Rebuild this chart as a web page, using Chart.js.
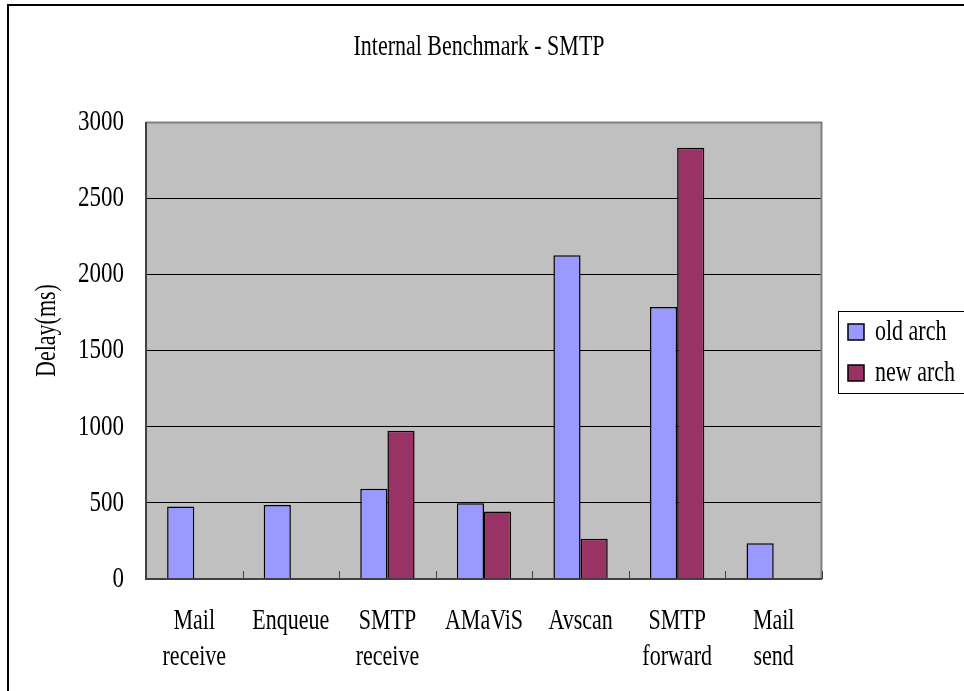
<!DOCTYPE html>
<html>
<head>
<meta charset="utf-8">
<title>Internal Benchmark - SMTP</title>
<script src="https://cdn.jsdelivr.net/npm/chart.js@4/dist/chart.umd.min.js"></script>
<style>
  html, body { margin: 0; padding: 0; background: #ffffff; overflow: hidden; }
  #wrap { position: relative; width: 964px; height: 691px; }
</style>
</head>
<body>
<div id="wrap"><canvas id="chart" width="964" height="691"></canvas></div>
<script>
// Processing stages (multi-line labels are arrays of lines)
const categories = [
  ['Mail', 'receive'],
  'Enqueue',
  ['SMTP', 'receive'],
  'AMaViS',
  'Avscan',
  ['SMTP', 'forward'],
  ['Mail', 'send']
];

// Delay per stage in milliseconds
const oldArch = [476, 485, 592, 498, 2125, 1785, 235];
const newArch = [null, null, 974, 443, 265, 2831, null];

const seriesNames = ['old arch', 'new arch'];
const chartTitle = 'Internal Benchmark - SMTP';
const yAxisTitle = 'Delay(ms)';

// Value axis range
const yMin = 0;
const yMax = 3000;
const yStep = 500;

const FONT = '"Liberation Serif", "Times New Roman", serif';
const GLYPH_STRETCH = 1.32;   // tall, narrow serif look

const canvas = document.getElementById('chart');
const ctx = canvas.getContext('2d');

// Draw every glyph run stretched vertically around its anchor point.
const baseFillText = ctx.fillText.bind(ctx);
ctx.fillText = function (text, x, y, maxWidth) {
  this.save();
  this.translate(x, y);
  this.scale(1, GLYPH_STRETCH);
  if (maxWidth === undefined) baseFillText(text, 0, 0);
  else baseFillText(text, 0, 0, maxWidth);
  this.restore();
};

// Gray plot area, frames, category tick marks and the rotated y title
const decor = {
  id: 'decor',
  afterLayout(chart) {
    // leave a small gap between the plot frame and the legend
    const lg = chart.legend;
    if (lg) {
      lg.left += 7; lg.right += 7;
      lg.top += 15; lg.bottom += 15;
    }
  },
  beforeDraw(chart) {
    const c = chart.ctx;
    const a = chart.chartArea;
    c.save();
    c.fillStyle = '#ffffff';
    c.fillRect(0, 0, chart.width, chart.height);
    c.fillStyle = '#c0c0c0';
    c.fillRect(a.left, a.top, a.right - a.left, a.bottom - a.top);

    // legend frame (legend items are drawn on top of it)
    const lg = chart.legend;
    if (lg && lg.legendHitBoxes && lg.legendHitBoxes.length) {
      const hb = lg.legendHitBoxes;
      const first = hb[0];
      const last = hb[hb.length - 1];
      const x = Math.round(first.left - 10) + 0.5;
      const y = Math.round(first.top - 10) + 0.5;
      const h = Math.round(last.top + last.height + 9) - y + 0.5;
      c.fillStyle = '#ffffff';
      c.fillRect(x, y, 200, h);
      c.strokeStyle = '#000000';
      c.lineWidth = 1;
      c.strokeRect(x, y, 200, h);
    }
    c.restore();
  },
  beforeDatasetsDraw(chart) {
    const c = chart.ctx;
    const a = chart.chartArea;
    c.save();
    c.strokeStyle = '#808080';
    c.lineWidth = 2;
    c.beginPath();
    c.moveTo(a.left, a.top + 0.5);
    c.lineTo(a.right - 0.5, a.top + 0.5);
    c.lineTo(a.right - 0.5, a.bottom);
    c.stroke();
    c.restore();
  },
  afterDatasetsDraw(chart) {
    const c = chart.ctx;
    const a = chart.chartArea;
    const xs = chart.scales.x;
    c.save();
    // axis lines
    c.strokeStyle = '#404040';
    c.lineWidth = 2;
    c.beginPath();
    c.moveTo(a.left, a.top);
    c.lineTo(a.left, a.bottom);
    c.lineTo(a.right, a.bottom);
    c.stroke();
    // category boundary tick marks
    c.lineWidth = 1;
    const n = categories.length;
    const half = (xs.getPixelForValue(1) - xs.getPixelForValue(0)) / 2;
    for (let i = 0; i <= n; i++) {
      const px = Math.round(xs.getPixelForValue(i) - half) + 0.5;
      c.beginPath();
      c.moveTo(px, a.bottom);
      c.lineTo(px, a.bottom - 8);
      c.stroke();
    }
    c.restore();
  },
  afterDraw(chart) {
    const c = chart.ctx;
    const a = chart.chartArea;
    c.save();
    // outer frame
    c.strokeStyle = '#000000';
    c.lineWidth = 2;
    c.strokeRect(8, 5, chart.width + 20, chart.height + 20);
    // y axis title
    c.fillStyle = '#000000';
    c.font = '22px ' + FONT;
    c.textAlign = 'center';
    c.textBaseline = 'middle';
    c.translate(47, (a.top + a.bottom) / 2 - 20);
    c.rotate(-Math.PI / 2);
    c.fillText(yAxisTitle, 0, 0);
    c.restore();
  }
};

new Chart(ctx, {
  type: 'bar',
  data: {
    labels: categories,
    datasets: [
      {
        label: seriesNames[0],
        data: oldArch,
        backgroundColor: '#9999ff',
        borderColor: '#000000',
        borderWidth: 1.5
      },
      {
        label: seriesNames[1],
        data: newArch,
        backgroundColor: '#993366',
        borderColor: '#000000',
        borderWidth: 1.5
      }
    ]
  },
  options: {
    responsive: false,
    animation: false,
    devicePixelRatio: 1,
    layout: { padding: { left: 0, right: 6, top: 0, bottom: 16 } },
    datasets: {
      bar: { categoryPercentage: 0.5625, barPercentage: 1.0, skipNull: false }
    },
    plugins: {
      title: {
        display: true,
        text: chartTitle,
        color: '#000000',
        font: { family: FONT, size: 22, weight: 'normal' },
        padding: { top: 34, bottom: 61.6 }
      },
      legend: {
        display: true,
        position: 'right',
        align: 'center',
        labels: {
          color: '#000000',
          font: { family: FONT, size: 22 },
          boxWidth: 16,
          boxHeight: 16,
          padding: 19
        }
      },
      tooltip: { enabled: false }
    },
    scales: {
      x: {
        grid: { display: false, drawTicks: false },
        border: { display: false },
        afterFit(scale) { scale.height = 96; },
        ticks: {
          color: '#000000',
          font: { family: FONT, size: 22, lineHeight: 36 / 22 },
          padding: 24,
          maxRotation: 0,
          minRotation: 0,
          autoSkip: false
        }
      },
      y: {
        min: yMin,
        max: yMax,
        grid: { color: '#000000', lineWidth: 1, drawTicks: false },
        border: { display: false },
        afterFit(scale) { scale.width = 146; },
        ticks: {
          stepSize: yStep,
          color: '#000000',
          font: { family: FONT, size: 23 },
          padding: 22,
          callback: (v) => String(v)
        }
      }
    }
  },
  plugins: [decor]
});
</script>
</body>
</html>
